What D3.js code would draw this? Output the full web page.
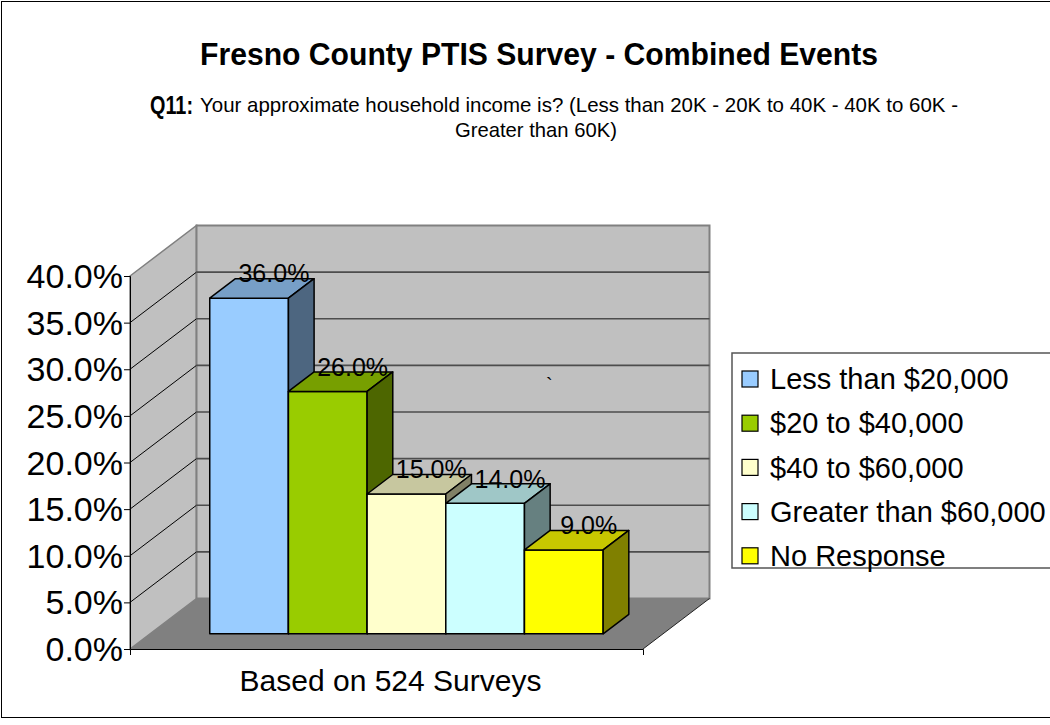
<!DOCTYPE html>
<html>
<head>
<meta charset="utf-8">
<script src="https://cdn.jsdelivr.net/npm/d3@7"></script>
<style>
  html, body { margin: 0; padding: 0; background: #fff; }
  svg { display: block; font-family: "Liberation Sans", Arial, sans-serif; }
</style>
</head>
<body>
<svg id="chart" width="1050" height="725"></svg>
<script>
// ---- data ----
const categories = ["Less than $20,000", "$20 to $40,000", "$40 to $60,000", "Greater than $60,000", "No Response"];
const values = [36.0, 26.0, 15.0, 14.0, 9.0];
const colors = ["#99ccff", "#99cc00", "#ffffcc", "#ccffff", "#ffff00"];
const yTicks = [0, 5, 10, 15, 20, 25, 30, 35, 40];
const xAxisTitle = ["Based on 524 Surveys"];
const title = "Fresno County PTIS Survey - Combined Events";
const subtitleLead = "Q11:";
const subtitleLine1 = "Your approximate household income is? (Less than 20K - 20K to 40K - 40K to 60K -";
const subtitleLine2 = "Greater than 60K)";

// ---- layout ----
const svg = d3.select("#chart");
const font = "'Liberation Sans', Arial, sans-serif";
const x0 = 130, x1 = 643;          // front plane horizontal extent
const DX = 66.5, DY = -50.5;       // full depth offset
const d0 = 0.30, d1 = 0.686;       // bar depth range (fraction)

const y = d3.scaleLinear().domain([0, 40]).range([649, 276]);
const x = d3.scaleBand().domain(categories).range([x0, x1]).paddingInner(0).paddingOuter(0.76);
const P = (xf, v, d) => [xf + DX * d, y(v) + DY * d];
const poly = pts => pts.map(p => p.join(",")).join(" ");

// outer border
svg.append("rect").attr("x", 1.5).attr("y", 1.5).attr("width", 1100).attr("height", 716)
  .attr("fill", "#fff").attr("stroke", "#000").attr("stroke-width", 1);

// titles
svg.append("text").attr("x", 539).attr("y", 65).attr("text-anchor", "middle")
  .attr("font-size", 31).attr("font-weight", "bold").attr("font-family", font)
  .attr("textLength", 678).attr("lengthAdjust", "spacingAndGlyphs").text(title);
svg.append("text").attr("x", 150).attr("y", 114)
  .attr("font-size", 26).attr("font-weight", "bold").attr("font-family", font)
  .attr("textLength", 43).attr("lengthAdjust", "spacingAndGlyphs").text(subtitleLead);
svg.append("text").attr("x", 200).attr("y", 112)
  .attr("font-size", 21).attr("font-family", font)
  .attr("textLength", 758).attr("lengthAdjust", "spacingAndGlyphs").text(subtitleLine1);
svg.append("text").attr("x", 536).attr("y", 137).attr("text-anchor", "middle")
  .attr("font-size", 21).attr("font-family", font)
  .attr("textLength", 162).attr("lengthAdjust", "spacingAndGlyphs").text(subtitleLine2);

// walls
const g = svg.append("g");
g.append("polygon") // left wall
  .attr("points", poly([P(x0, 0, 0), P(x0, 40, 0), P(x0, 40, 1), P(x0, 0, 1)]))
  .attr("fill", "#c0c0c0").attr("stroke", "#808080").attr("stroke-width", 1.5);
g.append("polygon") // back wall
  .attr("points", poly([P(x0, 0, 1), P(x0, 40, 1), P(x1, 40, 1), P(x1, 0, 1)]))
  .attr("fill", "#c0c0c0").attr("stroke", "#808080").attr("stroke-width", 2);

// gridlines
const inner = yTicks.filter(t => t > 0 && t < 40);
g.selectAll(".gl").data(inner).join("line")
  .attr("x1", d => P(x0, d, 0)[0]).attr("y1", d => P(x0, d, 0)[1])
  .attr("x2", d => P(x0, d, 1)[0]).attr("y2", d => P(x0, d, 1)[1])
  .attr("stroke", "#000").attr("stroke-width", 1);
g.selectAll(".gb").data(inner).join("line")
  .attr("x1", d => P(x0, d, 1)[0]).attr("y1", d => P(x0, d, 1)[1])
  .attr("x2", d => P(x1, d, 1)[0]).attr("y2", d => P(x1, d, 1)[1])
  .attr("stroke", "#4d4d4d").attr("stroke-width", 1.6);

// floor
g.append("polygon")
  .attr("points", poly([P(x0, 0, 0), P(x1, 0, 0), P(x1, 0, 1), P(x0, 0, 1)]))
  .attr("fill", "#808080").attr("stroke", "none");
g.append("line")
  .attr("x1", P(x1, 0, 0)[0]).attr("y1", P(x1, 0, 0)[1])
  .attr("x2", P(x1, 0, 1)[0]).attr("y2", P(x1, 0, 1)[1])
  .attr("stroke", "#222").attr("stroke-width", 1);

// axes
const yAxis = d3.axisLeft(y).tickValues(yTicks).tickSize(6).tickPadding(1)
  .tickFormat(d => d.toFixed(1) + "%");
const ya = svg.append("g").attr("transform", `translate(${x0},0)`).call(yAxis);
ya.selectAll("text").attr("font-size", 34).attr("font-family", font).attr("fill", "#000")
  .attr("dy", "0.34em");
ya.selectAll("line,path").attr("stroke", "#000");

const xTitleScale = d3.scaleBand().domain(xAxisTitle).range([x0, x1]);
const xAxis = d3.axisBottom(xTitleScale).tickSizeInner(0).tickSizeOuter(6).tickPadding(21);
const xa = svg.append("g").attr("transform", `translate(0,${y(0)})`).call(xAxis);
xa.selectAll("text").attr("font-size", 30).attr("font-family", font).attr("fill", "#000")
  .attr("dx", 4);
xa.selectAll("line,path").attr("stroke", "#000");

// bars
const shade = (c, k) => { const r = d3.rgb(c); return d3.rgb(r.r * k, r.g * k, r.b * k).formatHex(); };
const bars = svg.append("g");
categories.forEach((c, i) => {
  const v = values[i];
  const xl = x(c), xr = x(c) + x.bandwidth();
  const bg = bars.append("g").attr("stroke", "#000").attr("stroke-width", 1.5).attr("stroke-linejoin", "round");
  bg.append("polygon").attr("points", poly([P(xl, 0, d0), P(xr, 0, d0), P(xr, v, d0), P(xl, v, d0)]))
    .attr("fill", colors[i]);
  bg.append("polygon").attr("points", poly([P(xl, v, d0), P(xr, v, d0), P(xr, v, d1), P(xl, v, d1)]))
    .attr("fill", shade(colors[i], 0.78));
  bg.append("polygon").attr("points", poly([P(xr, 0, d0), P(xr, 0, d1), P(xr, v, d1), P(xr, v, d0)]))
    .attr("fill", shade(colors[i], 0.5));
});

// data labels
categories.forEach((c, i) => {
  const v = values[i];
  const cx = x(c) + x.bandwidth() / 2;
  const p = P(cx, v, (d0 + d1) / 2);
  svg.append("text").attr("x", p[0] + 12).attr("y", p[1] - 6)
    .attr("text-anchor", "middle").attr("font-size", 25).attr("font-family", font)
    .attr("fill", "#000").text(v.toFixed(1) + "%");
});

// stray mark
svg.append("text").attr("x", 546).attr("y", 392).attr("font-size", 20).attr("font-family", font).text("`");

// legend
const lg = svg.append("g");
lg.append("rect").attr("x", 732).attr("y", 353).attr("width", 330).attr("height", 215)
  .attr("fill", "#fff").attr("stroke", "#555").attr("stroke-width", 1.5);
const rows = lg.selectAll(".row").data(categories).join("g")
  .attr("transform", (d, i) => `translate(742,${379 + i * 44.2})`);
rows.append("rect").attr("x", 0).attr("y", -8).attr("width", 16).attr("height", 16)
  .attr("fill", (d, i) => colors[i]).attr("stroke", "#000").attr("stroke-width", 1.2);
rows.append("text").attr("x", 28).attr("y", 0).attr("dy", "0.35em")
  .attr("font-size", 29).attr("font-family", font).attr("fill", "#000")
  .text(d => d);
</script>
</body>
</html>
